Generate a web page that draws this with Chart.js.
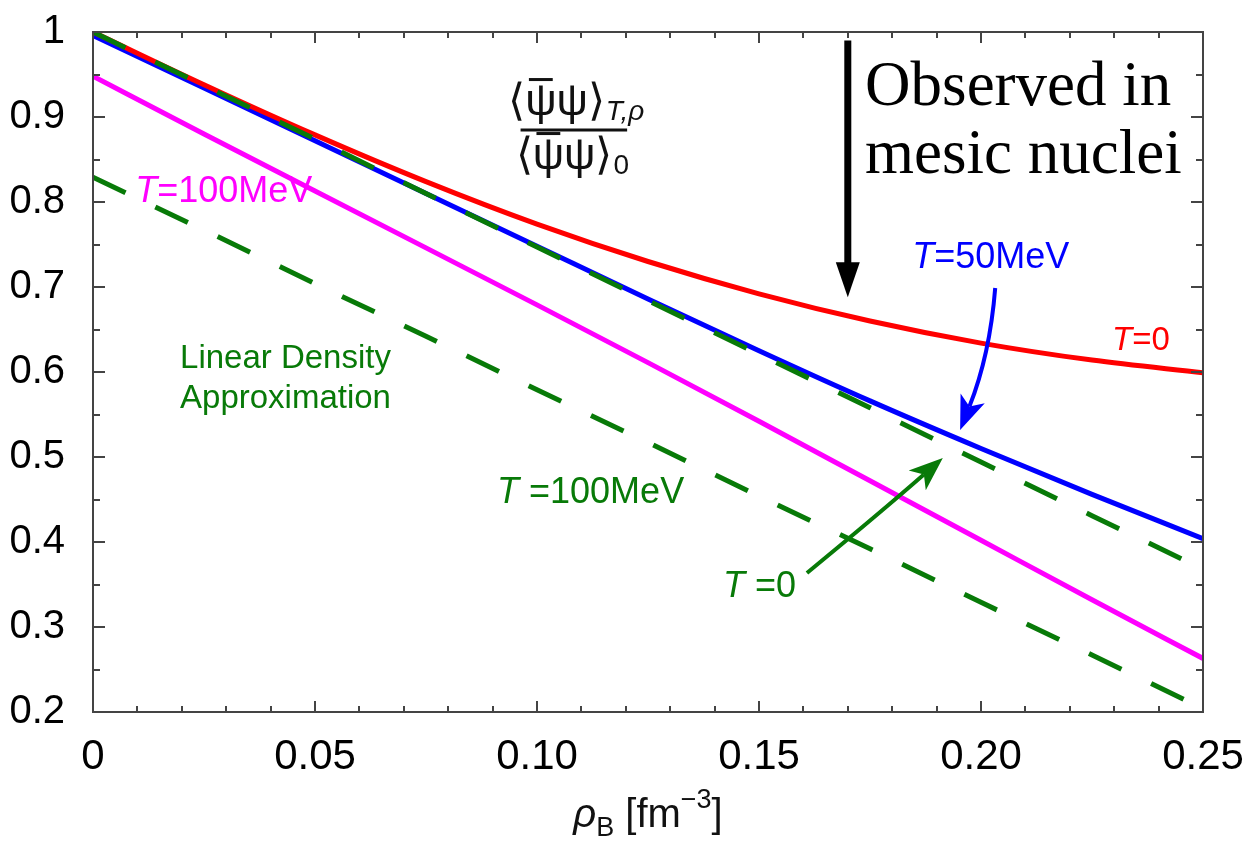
<!DOCTYPE html>
<html>
<head>
<meta charset="utf-8">
<script src="https://cdn.jsdelivr.net/npm/chart.js@4.4.1/dist/chart.umd.min.js"></script>
<style>
  html, body { margin: 0; padding: 0; background: #ffffff; }
  #wrap { width: 1247px; height: 843px; }
</style>
</head>
<body>
<div id="wrap"><canvas id="c" width="1247" height="843"></canvas></div>
<script>
// Baryon density grid [fm^-3]
const rhoB = [0, 0.025, 0.05, 0.075, 0.10, 0.125, 0.15, 0.175, 0.20, 0.225, 0.25];

// Chiral condensate ratio <psibar psi>_{T,rho} / <psibar psi>_0
const ratioT0   = [1.000, 0.938, 0.879, 0.824, 0.774, 0.730, 0.692, 0.660, 0.634, 0.614, 0.599];
const ratioT50  = [0.996, 0.934, 0.872, 0.810, 0.748, 0.686, 0.625, 0.566, 0.510, 0.456, 0.404];
const ratioT100 = [0.948, 0.880, 0.813, 0.746, 0.679, 0.611, 0.542, 0.472, 0.402, 0.332, 0.263];

// Linear density approximation
const ldaT0   = [1.000, 0.937, 0.874, 0.810, 0.747, 0.684, 0.621, 0.558, 0.494, 0.431, 0.368];
const ldaT100 = [0.829, 0.767, 0.704, 0.642, 0.579, 0.517, 0.454, 0.392, 0.329, 0.267, 0.204];

// Tick labels
const xTickLabels = ['0', '0.05', '0.10', '0.15', '0.20', '0.25'];
const yTickLabels = ['0.2', '0.3', '0.4', '0.5', '0.6', '0.7', '0.8', '0.9', '1'];

const RED = '#ff0000', BLUE = '#0000ff', MAGENTA = '#ff00ff', GREEN = '#087a08';
const SANS = "'Liberation Sans', Arial, sans-serif";
const SERIF = "'Liberation Serif', 'Times New Roman', serif";

const pts = vals => rhoB.map((r, i) => ({ x: r, y: vals[i] }));

function run(ctx, parts, x, y, size, color) {
  // parts: [text, italic]
  ctx.fillStyle = color;
  ctx.textBaseline = 'alphabetic';
  ctx.textAlign = 'left';
  let cx = x;
  for (const [t, it] of parts) {
    ctx.font = (it ? 'italic ' : '') + size + 'px ' + SANS;
    ctx.fillText(t, cx, y);
    cx += ctx.measureText(t).width;
  }
  return cx;
}

// Barbed arrow head pointing at (tx, ty), coming from (fromX, fromY)
function arrowHead(ctx, tx, ty, fromX, fromY, len, half, color) {
  const ang = Math.atan2(ty - fromY, tx - fromX);
  const c = Math.cos(ang), s = Math.sin(ang);
  const bx = tx - c * len, by = ty - s * len;
  const nx = tx - c * len * 0.74, ny = ty - s * len * 0.74;
  ctx.fillStyle = color;
  ctx.beginPath();
  ctx.moveTo(tx, ty);
  ctx.lineTo(bx - s * half, by + c * half);
  ctx.lineTo(nx, ny);
  ctx.lineTo(bx + s * half, by - c * half);
  ctx.closePath();
  ctx.fill();
  return [nx, ny];
}

function pointer(ctx, X, Y, from, ctrl, tip, color) {
  const sx = X(from[0]), sy = Y(from[1]);
  const kx = X(ctrl[0]), ky = Y(ctrl[1]);
  const tx = X(tip[0]), ty = Y(tip[1]);
  const [nx, ny] = arrowHead(ctx, tx, ty, kx, ky, 34, 13, color);
  ctx.strokeStyle = color;
  ctx.lineWidth = 4;
  ctx.beginPath();
  ctx.moveTo(sx, sy);
  ctx.quadraticCurveTo(kx, ky, nx, ny);
  ctx.stroke();
}

const decorations = {
  id: 'decorations',
  afterDraw(chart) {
    const { ctx, chartArea: a, scales: { x, y } } = chart;
    const X = v => x.getPixelForValue(v);
    const Y = v => y.getPixelForValue(v);
    ctx.save();

    // Inward tick marks on all four sides
    ctx.strokeStyle = '#444444';
    ctx.lineWidth = 2;
    ctx.beginPath();
    for (let i = 0; i <= 25; i++) {
      const px = Math.round(X(i / 100));
      const len = i % 5 === 0 ? 11 : 6;
      ctx.moveTo(px, a.bottom); ctx.lineTo(px, a.bottom - len);
      ctx.moveTo(px, a.top); ctx.lineTo(px, a.top + len);
    }
    for (let i = 4; i <= 20; i++) {
      const py = Math.round(Y(i / 20));
      const len = i % 2 === 0 ? 12 : 7;
      ctx.moveTo(a.left, py); ctx.lineTo(a.left + len, py);
      ctx.moveTo(a.right, py); ctx.lineTo(a.right - len, py);
    }
    ctx.stroke();
    ctx.strokeRect(a.left, a.top, a.right - a.left, a.bottom - a.top);

    // Ratio formula
    const fs = 44;
    const drawBracket = (x0, base, sub, subItalic) => {
      ctx.font = fs + 'px ' + SANS;
      ctx.fillStyle = '#111111';
      let cx = x0;
      ctx.fillText('\u27E8', cx, base); cx += ctx.measureText('\u27E8').width;
      const w = ctx.measureText('\u03C8').width;
      ctx.fillText('\u03C8', cx, base);
      ctx.fillRect(cx + w * 0.12, base - fs * 0.84, w * 0.76, 3);
      cx += w;
      ctx.fillText('\u03C8', cx, base); cx += w;
      ctx.fillText('\u27E9', cx, base); cx += ctx.measureText('\u27E9').width;
      ctx.font = (subItalic ? 'italic ' : '') + '28px ' + SANS;
      ctx.fillText(sub, cx + 1, base + 5);
      return cx;
    };
    drawBracket(X(0.0935), Y(0.8847) - 15, 'T,\u03C1', true);
    ctx.fillStyle = '#111111';
    ctx.fillRect(X(0.0963), Y(0.8847) - 1.5, X(0.1203) - X(0.0963), 3);
    drawBracket(X(0.0952), Y(0.8847) + 39, '0', false);

    // "Observed in mesic nuclei"
    ctx.fillStyle = '#000000';
    ctx.font = '63px ' + SERIF;
    ctx.fillText('Observed in', X(0.1739), Y(0.914));
    ctx.fillText('mesic nuclei', X(0.1739), Y(0.834));

    // Vertical arrow at normal nuclear density
    const ax = X(0.17);
    ctx.fillRect(ax - 3.5, Y(0.99), 7, Y(0.72) - Y(0.99));
    ctx.beginPath();
    ctx.moveTo(ax - 12, Y(0.729));
    ctx.lineTo(ax + 12, Y(0.729));
    ctx.lineTo(ax, Y(0.688));
    ctx.closePath();
    ctx.fill();

    // Curve labels
    run(ctx, [['T', true], ['=50MeV', false]], X(0.1845), Y(0.7224), 36, BLUE);
    run(ctx, [['T', true], ['=100MeV', false]], X(0.0095), Y(0.80), 36, MAGENTA);
    run(ctx, [['T', true], ['=0', false]], X(0.2295), Y(0.626), 33, RED);
    run(ctx, [['Linear Density', false]], X(0.0196), Y(0.6047), 33, GREEN);
    run(ctx, [['Approximation', false]], X(0.0196), Y(0.558), 33, GREEN);
    run(ctx, [['T', true], [' =100MeV', false]], X(0.091), Y(0.4459), 36, GREEN);
    run(ctx, [['T', true], [' =0', false]], X(0.1419), Y(0.3353), 36, GREEN);

    // Pointers to the T=50MeV curve and the T=0 linear density line
    pointer(ctx, X, Y, [0.2032, 0.6988], [0.2020, 0.620], [0.1953, 0.5318], BLUE);
    pointer(ctx, X, Y, [0.1608, 0.3635], [0.1770, 0.4330], [0.1914, 0.4988], GREEN);

    // Axis title: rho_B [fm^-3]
    ctx.fillStyle = '#111111';
    const base = 827;
    const parts = [
      ['\u03C1', 'italic 40px', 0],
      ['B', '27px', 9],
      [' [fm', '40px', 0],
      ['\u22123', '27px', -19],
      [']', '40px', 0]
    ];
    let total = 0;
    for (const p of parts) { ctx.font = p[1] + ' ' + SANS; total += ctx.measureText(p[0]).width; }
    let cx = (a.left + a.right) / 2 - total / 2;
    for (const p of parts) {
      ctx.font = p[1] + ' ' + SANS;
      ctx.fillText(p[0], cx, base + p[2]);
      cx += ctx.measureText(p[0]).width;
    }
    ctx.restore();
  }
};

const lineDs = (vals, color, dashed) => ({
  data: pts(vals),
  borderColor: color,
  borderWidth: 5,
  borderDash: dashed ? [36, 33] : [],
  borderCapStyle: 'butt',
  pointRadius: 0,
  fill: false,
  tension: 0,
  cubicInterpolationMode: dashed ? 'default' : 'monotone'
});

new Chart(document.getElementById('c'), {
  type: 'line',
  data: {
    datasets: [
      lineDs(ldaT0, GREEN, true),
      lineDs(ratioT0, RED, false),
      lineDs(ldaT100, GREEN, true),
      lineDs(ratioT50, BLUE, false),
      lineDs(ratioT100, MAGENTA, false)
    ]
  },
  options: {
    responsive: false,
    devicePixelRatio: 1,
    animation: false,
    events: [],
    layout: { padding: { top: 32, right: 44, left: 0, bottom: 0 } },
    plugins: { legend: { display: false }, tooltip: { enabled: false }, title: { display: false } },
    scales: {
      x: {
        type: 'linear',
        min: 0, max: 0.25,
        grid: { display: false },
        border: { display: false },
        ticks: {
          stepSize: 0.05,
          color: '#000000',
          font: { family: SANS, size: 42 },
          padding: 12,
          maxRotation: 0,
          callback: v => xTickLabels[Math.round(v / 0.05)]
        },
        afterFit: s => { s.height = 131; s.paddingLeft = 0; s.paddingRight = 0; }
      },
      y: {
        type: 'linear',
        min: 0.2, max: 1,
        grid: { display: false },
        border: { display: false },
        ticks: {
          stepSize: 0.1,
          color: '#000000',
          font: { family: SANS, size: 40 },
          padding: 20,
          callback: v => yTickLabels[Math.round((v - 0.2) / 0.1)]
        },
        afterFit: s => { s.width = 93; s.paddingTop = 0; s.paddingBottom = 0; }
      }
    }
  },
  plugins: [decorations]
});
</script>
</body>
</html>
